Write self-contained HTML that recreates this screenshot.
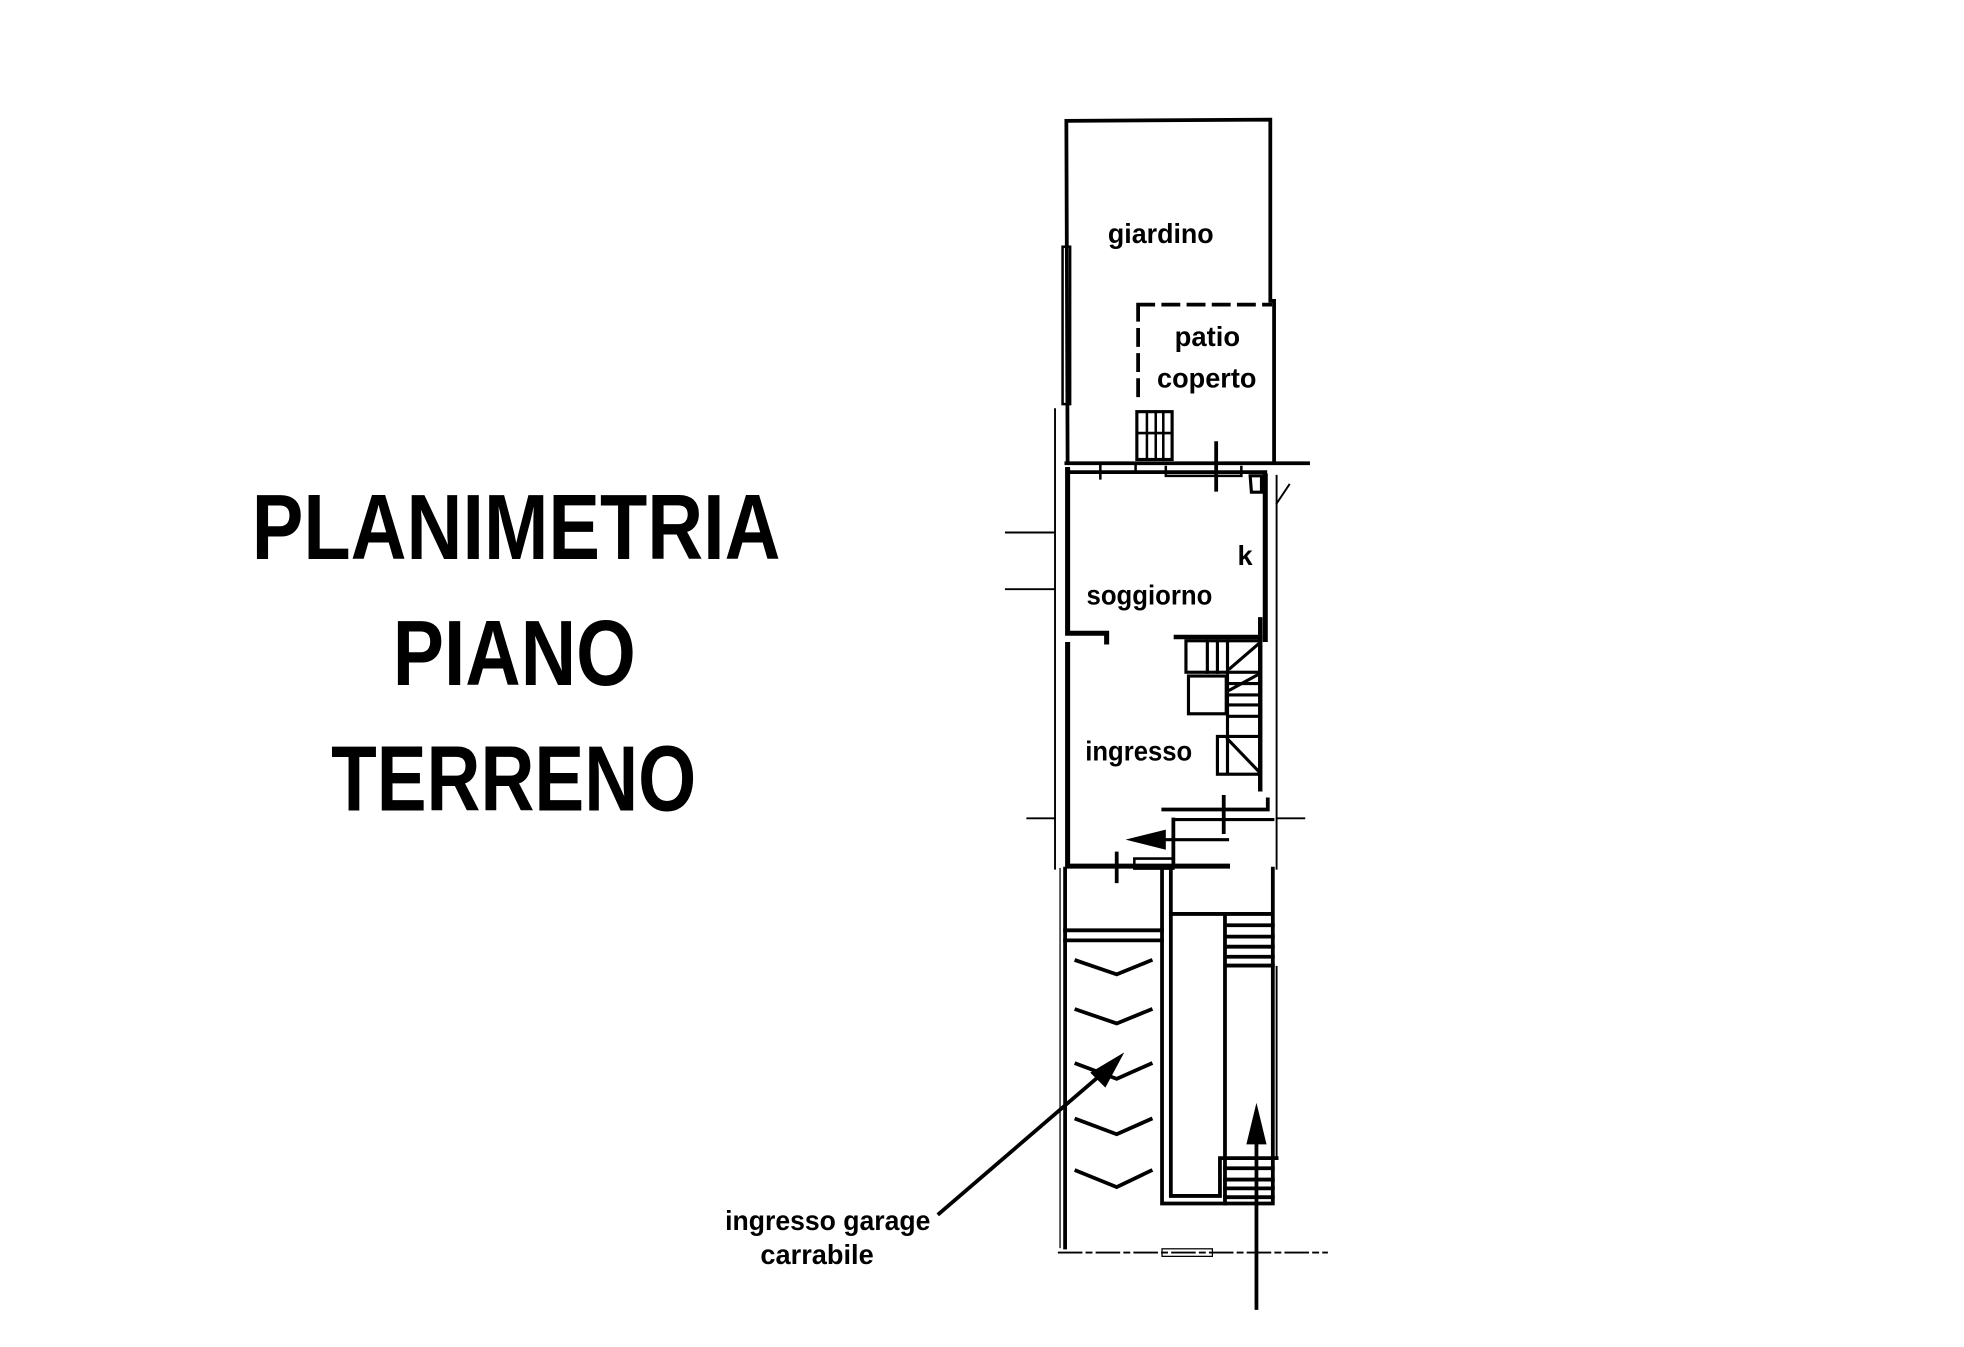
<!DOCTYPE html>
<html><head><meta charset="utf-8"><style>
html,body{margin:0;padding:0;background:#fff;}
svg{display:block;}
text{font-family:"Liberation Sans",sans-serif;font-weight:bold;fill:#000;}
</style></head><body>
<svg width="1964" height="1347" viewBox="0 0 1560 1070" preserveAspectRatio="none" xmlns="http://www.w3.org/2000/svg">
<rect width="1560" height="1070" fill="#fff"/>
<!-- Title -->
<text x="200" y="444" font-size="74" textLength="420" lengthAdjust="spacingAndGlyphs">PLANIMETRIA</text>
<text x="312" y="544" font-size="74" textLength="193" lengthAdjust="spacingAndGlyphs">PIANO</text>
<text x="263" y="644" font-size="74" textLength="290" lengthAdjust="spacingAndGlyphs">TERRENO</text>

<g transform="translate(-4,0)">
<g fill="none" stroke="#000" stroke-linecap="square">
<!-- garden -->
<polyline points="852,366 851,96 1013,95 1013,239 1016,239 1016,366" stroke-width="3"/>
<rect x="848" y="196" width="6" height="125" stroke-width="2"/>
<path d="M908,242 L1013,242 M908,242 L908,317" stroke-width="3" stroke-dasharray="12,8"/>
<rect x="907" y="327" width="28" height="38" stroke-width="2.5"/>
<path d="M915,327V365 M922,327V365 M928,327V365 M907,344H935" stroke-width="2"/>
<!-- wall garden/house -->
<path d="M851,368 H1043" stroke-width="3"/>
<path d="M878,368V380 M906,368V374 M930,371V378 H990 V371" stroke-width="2"/>
<path d="M970,352V389" stroke-width="3"/>
<!-- soggiorno -->
<polyline points="852,373 852,503 883,503 883,510" stroke-width="4"/>
<polyline points="1009,378 1009,508" stroke-width="4"/>
<path d="M852,375 H1009" stroke-width="3"/>
<path d="M997,378 L1006,378 L1006,391 L998,391 Z" stroke-width="2.5"/>
<!-- stairs -->
<path d="M938,506 H1005" stroke-width="3.5"/>
<path d="M1005,492 V627" stroke-width="3.5"/>
<rect x="946" y="509" width="59" height="25" stroke-width="2.5"/>
<path d="M963,509V534 M971,509V534 M979,509V534" stroke-width="2.5"/>
<rect x="948" y="537" width="30" height="30" stroke-width="2.5"/>
<path d="M979,534V614 M979,552H1005 M979,560H1005 M979,569H1005 M979,543H1005" stroke-width="2.5"/>
<path d="M981,531 L1003,512 M981,548 L1003,536" stroke-width="2.5"/>
<rect x="971" y="585" width="34" height="30" stroke-width="2.5"/>
<path d="M979,587 L1004,613" stroke-width="2.5"/>
<!-- ingresso -->
<polyline points="852,512 852,688 979,688" stroke-width="4"/>
<path d="M928,643 H1011 V635" stroke-width="3"/>
<path d="M936,651 H1015" stroke-width="2.5"/>
<path d="M936,651 V688" stroke-width="3"/>
<path d="M928,667 H979" stroke-width="2.5"/>
<path d="M976,633V661 M891,678V700" stroke-width="3"/>
<path d="M905,682 H936 V690 H905 Z" stroke-width="2"/>
<!-- outer thin lines -->
<path d="M1018,378 V690 M842,325 V690 M803,423 H842 M803,468 H842 M1018,400 L1028,385 M820,650 H842 M1018,650 H1040" stroke-width="1.5"/>
<!-- garage -->
<path d="M850,690 V991" stroke-width="3"/>
<path d="M846,690 V991" stroke-width="1"/>
<path d="M850,739 H927 M850,747 H927" stroke-width="3"/>
<path d="M927,692 V956 H977 V920 M934,692 V950 H973 V920 H1018" stroke-width="3"/>
<path d="M934,726 H1015 M977,726 V920 M1015,690 V956 H977" stroke-width="3"/>
<path d="M1018,768 V920" stroke-width="1.5"/>
<path d="M979,735H1015 M979,744H1015 M979,752H1015 M979,760H1015 M979,767H1015" stroke-width="3"/>
<path d="M977,928H1015 M977,937H1015 M977,944H1015 M977,951H1015" stroke-width="3"/>
<g stroke-width="3">
<path d="M859,763 L891,774 L918,763"/>
<path d="M859,802 L891,813 L918,802"/>
<path d="M859,845 L891,857 L918,845"/>
<path d="M859,889 L891,901 L918,889"/>
<path d="M859,930 L891,943 L918,930"/>
</g>
<path d="M845,995 H1058" stroke-width="1.5" stroke-dasharray="18,4,4,4"/>
<rect x="927" y="992" width="40" height="6" stroke-width="1"/>
<!-- arrows -->
<path d="M750,964 L885,848" stroke-width="3"/>
<path d="M1002,1039 V900" stroke-width="3"/>
</g>
<polygon points="898,667 930,659 930,675" fill="#000"/>
<polygon points="897,836 870,852 882,864" fill="#000"/>
<polygon points="1002,876 994,909 1010,909" fill="#000"/>

<!-- labels -->
<text x="884" y="193" font-size="22" textLength="84" lengthAdjust="spacingAndGlyphs">giardino</text>
<text x="937" y="275" font-size="22" textLength="52" lengthAdjust="spacingAndGlyphs">patio</text>
<text x="923" y="308" font-size="22" textLength="79" lengthAdjust="spacingAndGlyphs">coperto</text>
<text x="987" y="449" font-size="22" textLength="12" lengthAdjust="spacingAndGlyphs">k</text>
<text x="867" y="480" font-size="22" textLength="100" lengthAdjust="spacingAndGlyphs">soggiorno</text>
<text x="866" y="604" font-size="22" textLength="85" lengthAdjust="spacingAndGlyphs">ingresso</text>
<text x="580" y="977" font-size="22" textLength="163" lengthAdjust="spacingAndGlyphs">ingresso garage</text>
<text x="608" y="1004" font-size="22" textLength="90" lengthAdjust="spacingAndGlyphs">carrabile</text>
</g>
</svg>
</body></html>
